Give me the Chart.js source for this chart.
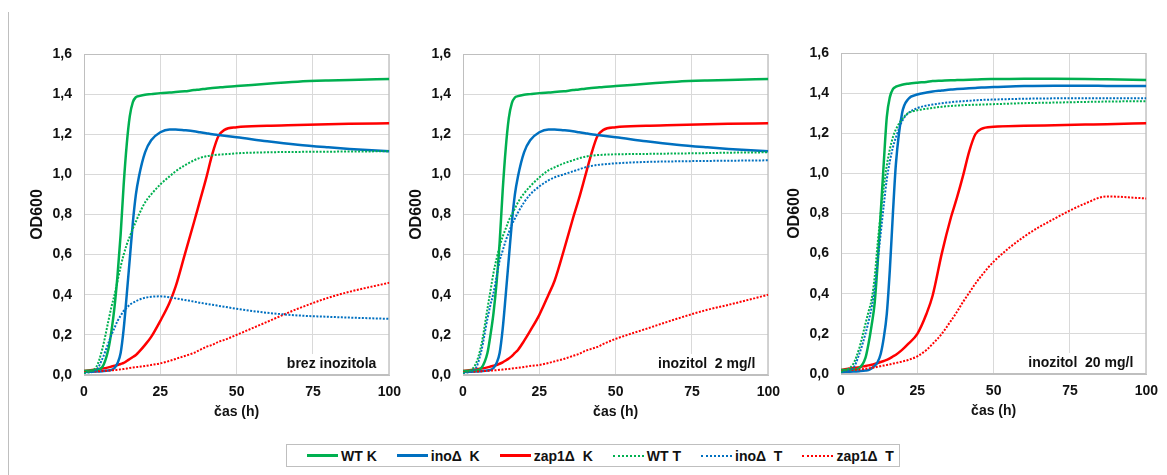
<!DOCTYPE html>
<html>
<head>
<meta charset="utf-8">
<script src="https://cdn.jsdelivr.net/npm/chart.js@4.4.1/dist/chart.umd.min.js"></script>
<style>
  body { margin: 0; background: #fff; width: 1167px; height: 475px; position: relative; overflow: hidden;
         font-family: "Liberation Sans", Arial, sans-serif; }
  .panel { position: absolute; top: 30px; }
  #frameLine { position: absolute; left: 8px; top: 12px; width: 1px; height: 463px; background: #bfbfbf; }
  #legend { position: absolute; left: 286px; top: 444px; width: 614px; height: 23px; border: 1px solid #bfbfbf;
            display: flex; align-items: center; padding-left: 20px; box-sizing: border-box; }
  .item { display: flex; align-items: center; margin-right: 20px; font-weight: bold; font-size: 14px; color: #111; white-space: pre; }
  .swatch { width: 31px; height: 0; margin-right: 3px; }
</style>
</head>
<body>
<div id="frameLine"></div>
<canvas id="c1" class="panel" style="left:14px"></canvas>
<canvas id="c2" class="panel" style="left:393px"></canvas>
<canvas id="c3" class="panel" style="left:771px;top:29px"></canvas>
<div id="legend"></div>
<script>
// time points (h), shared by all series
const hours = [0, 4, 6, 8, 9, 10, 11, 12, 13, 14, 15, 16, 17, 18, 20, 22, 25, 28, 30, 33, 36, 38, 40, 42, 44, 46, 50, 60, 70, 80, 87, 100];

const seriesNames = ['WT K', 'inoΔ  K', 'zap1Δ  K', 'WT T', 'inoΔ  T', 'zap1Δ  T'];
const seriesColors = ['#00b050', '#0070c0', '#ff0000', '#00b050', '#0070c0', '#ff0000'];
const panelTitles = ['brez inozitola', 'inozitol  2 mg/l', 'inozitol  20 mg/l'];

// brez inozitola
const p1WtK  = [0.02, 0.025, 0.04, 0.13, 0.22, 0.34, 0.5, 0.7, 0.95, 1.15, 1.29, 1.36, 1.385, 1.39, 1.397, 1.40, 1.405, 1.408, 1.41, 1.414, 1.42, 1.423, 1.427, 1.43, 1.433, 1.436, 1.44, 1.452, 1.462, 1.468, 1.471, 1.475];
const p1InoK = [0.015, 0.017, 0.019, 0.022, 0.026, 0.035, 0.06, 0.11, 0.23, 0.40, 0.58, 0.76, 0.9, 0.99, 1.11, 1.17, 1.21, 1.224, 1.224, 1.22, 1.215, 1.21, 1.205, 1.2, 1.196, 1.192, 1.185, 1.165, 1.148, 1.135, 1.127, 1.115];
const p1ZapK = [0.02, 0.028, 0.032, 0.038, 0.042, 0.046, 0.05, 0.055, 0.06, 0.07, 0.08, 0.09, 0.1, 0.115, 0.15, 0.19, 0.27, 0.36, 0.44, 0.6, 0.76, 0.87, 0.98, 1.1, 1.19, 1.222, 1.235, 1.242, 1.246, 1.25, 1.252, 1.255];
const p1WtT  = [0.01, 0.04, 0.13, 0.27, 0.34, 0.40, 0.47, 0.54, 0.6, 0.65, 0.69, 0.73, 0.765, 0.80, 0.86, 0.90, 0.95, 0.99, 1.015, 1.045, 1.07, 1.082, 1.09, 1.095, 1.098, 1.1, 1.105, 1.11, 1.112, 1.113, 1.114, 1.115];
const p1InoT = [0.01, 0.025, 0.08, 0.16, 0.2, 0.235, 0.27, 0.295, 0.32, 0.335, 0.35, 0.36, 0.368, 0.375, 0.385, 0.39, 0.392, 0.387, 0.382, 0.374, 0.366, 0.36, 0.355, 0.35, 0.345, 0.34, 0.33, 0.31, 0.297, 0.29, 0.286, 0.28];
const p1ZapT = [0.015, 0.018, 0.02, 0.022, 0.023, 0.025, 0.026, 0.028, 0.03, 0.032, 0.035, 0.037, 0.039, 0.041, 0.045, 0.05, 0.058, 0.07, 0.08, 0.095, 0.11, 0.125, 0.14, 0.15, 0.165, 0.175, 0.2, 0.265, 0.33, 0.385, 0.415, 0.46];

// inozitol 2 mg/l
const p2WtK  = [0.02, 0.022, 0.035, 0.11, 0.2, 0.31, 0.46, 0.66, 0.92, 1.13, 1.28, 1.355, 1.383, 1.39, 1.397, 1.40, 1.405, 1.408, 1.41, 1.414, 1.42, 1.423, 1.427, 1.43, 1.433, 1.436, 1.44, 1.452, 1.462, 1.468, 1.471, 1.475];
const p2InoK = [0.015, 0.017, 0.019, 0.022, 0.026, 0.035, 0.06, 0.11, 0.23, 0.40, 0.58, 0.76, 0.9, 0.99, 1.11, 1.17, 1.21, 1.224, 1.224, 1.22, 1.215, 1.21, 1.205, 1.2, 1.196, 1.192, 1.185, 1.165, 1.148, 1.135, 1.127, 1.115];
const p2ZapK = [0.02, 0.028, 0.032, 0.038, 0.042, 0.046, 0.05, 0.056, 0.063, 0.072, 0.082, 0.094, 0.11, 0.125, 0.17, 0.22, 0.3, 0.4, 0.47, 0.62, 0.78, 0.88, 0.99, 1.1, 1.19, 1.222, 1.235, 1.242, 1.246, 1.25, 1.252, 1.255];
const p2WtT  = [0.01, 0.05, 0.15, 0.33, 0.42, 0.51, 0.58, 0.64, 0.69, 0.73, 0.77, 0.80, 0.83, 0.86, 0.905, 0.94, 0.985, 1.02, 1.035, 1.055, 1.07, 1.08, 1.088, 1.093, 1.096, 1.098, 1.10, 1.102, 1.104, 1.106, 1.108, 1.11];
const p2InoT = [0.01, 0.03, 0.12, 0.28, 0.35, 0.41, 0.49, 0.57, 0.62, 0.67, 0.71, 0.75, 0.78, 0.81, 0.86, 0.90, 0.94, 0.97, 0.985, 1.0, 1.015, 1.025, 1.035, 1.042, 1.047, 1.05, 1.055, 1.062, 1.065, 1.067, 1.068, 1.07];
const p2ZapT = [0.015, 0.017, 0.019, 0.021, 0.022, 0.023, 0.024, 0.026, 0.027, 0.029, 0.03, 0.032, 0.034, 0.036, 0.04, 0.045, 0.05, 0.06, 0.068, 0.08, 0.095, 0.105, 0.12, 0.13, 0.14, 0.155, 0.18, 0.23, 0.28, 0.325, 0.35, 0.40];

// inozitol 20 mg/l
const p3WtK  = [0.02, 0.022, 0.03, 0.08, 0.15, 0.24, 0.35, 0.55, 0.8, 1.05, 1.28, 1.38, 1.42, 1.432, 1.442, 1.447, 1.452, 1.456, 1.46, 1.462, 1.464, 1.465, 1.466, 1.467, 1.468, 1.469, 1.47, 1.472, 1.472, 1.471, 1.469, 1.465];
const p3InoK = [0.01, 0.012, 0.014, 0.017, 0.02, 0.028, 0.04, 0.06, 0.1, 0.18, 0.3, 0.52, 0.8, 1.05, 1.3, 1.37, 1.393, 1.403, 1.408, 1.413, 1.418, 1.42, 1.422, 1.424, 1.426, 1.428, 1.43, 1.435, 1.437, 1.437, 1.436, 1.435];
const p3ZapK = [0.02, 0.03, 0.034, 0.04, 0.043, 0.046, 0.05, 0.055, 0.06, 0.065, 0.07, 0.078, 0.087, 0.096, 0.12, 0.15, 0.2, 0.3, 0.39, 0.6, 0.78, 0.88, 0.99, 1.11, 1.195, 1.222, 1.232, 1.237, 1.24, 1.243, 1.245, 1.25];
const p3WtT  = [0.01, 0.05, 0.13, 0.25, 0.31, 0.37, 0.48, 0.65, 0.8, 0.93, 1.04, 1.12, 1.18, 1.22, 1.27, 1.3, 1.315, 1.322, 1.326, 1.332, 1.336, 1.338, 1.34, 1.341, 1.342, 1.343, 1.345, 1.35, 1.353, 1.356, 1.358, 1.36];
const p3InoT = [0.01, 0.03, 0.1, 0.2, 0.26, 0.33, 0.42, 0.56, 0.7, 0.84, 0.97, 1.06, 1.13, 1.18, 1.26, 1.3, 1.325, 1.338, 1.343, 1.35, 1.355, 1.358, 1.36, 1.362, 1.364, 1.366, 1.368, 1.372, 1.374, 1.375, 1.375, 1.375];
const p3ZapT = [0.015, 0.02, 0.022, 0.026, 0.028, 0.03, 0.033, 0.036, 0.039, 0.042, 0.045, 0.048, 0.052, 0.055, 0.062, 0.07, 0.088, 0.12, 0.15, 0.2, 0.265, 0.31, 0.36, 0.405, 0.45, 0.49, 0.56, 0.685, 0.775, 0.85, 0.885, 0.875];

const panels = [
  [p1WtK, p1InoK, p1ZapK, p1WtT, p1InoT, p1ZapT],
  [p2WtK, p2InoK, p2ZapK, p2WtT, p2InoT, p2ZapT],
  [p3WtK, p3InoK, p3ZapK, p3WtT, p3InoT, p3ZapT]
];

const FONT = '"Liberation Sans", Arial, sans-serif';
const TEXT = '#111';

// plot frame + label box in lower right corner
const panelDecor = {
  id: 'panelDecor',
  beforeDatasetsDraw(chart, args, opts) {
    const { ctx, chartArea: a } = chart;
    ctx.save();
    ctx.font = 'bold 14px ' + FONT;
    const w = ctx.measureText(opts.text).width;
    ctx.fillStyle = '#fff';
    ctx.fillRect(a.right - w - 20, a.bottom - 21, w + 19, 20);
    ctx.strokeStyle = '#bfbfbf';
    ctx.lineWidth = 1;
    ctx.strokeRect(a.left + 0.5, a.top + 0.5, a.right - a.left - 1, a.bottom - a.top - 1);
    ctx.restore();
  },
  afterDatasetsDraw(chart, args, opts) {
    const { ctx, chartArea: a } = chart;
    ctx.save();
    ctx.font = 'bold 14px ' + FONT;
    ctx.fillStyle = TEXT;
    ctx.textAlign = 'right';
    ctx.textBaseline = 'middle';
    ctx.fillText(opts.text, a.right - 13, a.bottom - 11);
    ctx.restore();
  }
};

function makePanel(id, values, title) {
  const canvas = document.getElementById(id);
  canvas.width = 396;
  canvas.height = 395;
  const datasets = values.map((vals, i) => {
    const dotted = i >= 3;
    return {
      label: seriesNames[i],
      data: hours.map((h, j) => ({ x: h, y: vals[j] })),
      borderColor: seriesColors[i],
      borderWidth: dotted ? 2 : 2.5,
      borderDash: dotted ? [2, 1.5] : [],
      pointRadius: 0,
      fill: false,
      cubicInterpolationMode: 'monotone',
      order: dotted ? 0 : 1
    };
  });
  return new Chart(canvas, {
    type: 'line',
    data: { datasets },
    options: {
      responsive: false,
      animation: false,
      layout: { padding: { top: 24, right: 16, left: 0, bottom: 0 } },
      plugins: {
        legend: { display: false },
        tooltip: { enabled: false },
        panelDecor: { text: title }
      },
      scales: {
        x: {
          type: 'linear',
          min: 0, max: 100,
          afterFit: s => { s.height = 50; },
          ticks: { stepSize: 25, padding: 9, color: TEXT, font: { family: FONT, size: 14, weight: 'bold' } },
          grid: { color: '#d9d9d9', drawTicks: false },
          border: { color: '#bfbfbf' },
          title: { display: true, text: 'čas (h)', color: TEXT, padding: { top: 0, bottom: 4 },
                   font: { family: FONT, size: 14, weight: 'bold' } }
        },
        y: {
          min: 0, max: 1.6,
          afterFit: s => { s.width = 70; },
          ticks: { stepSize: 0.2, padding: 12, color: TEXT, font: { family: FONT, size: 14, weight: 'bold' },
                   callback: v => v.toFixed(1).replace('.', ',') },
          grid: { color: '#d9d9d9', drawTicks: false },
          border: { color: '#bfbfbf' },
          title: { display: true, text: 'OD600', color: TEXT, padding: { top: 14, bottom: 0 },
                   font: { family: FONT, size: 16, weight: 'bold' } }
        }
      }
    },
    plugins: [panelDecor]
  });
}

makePanel('c1', panels[0], panelTitles[0]);
makePanel('c2', panels[1], panelTitles[1]);
makePanel('c3', panels[2], panelTitles[2]);

// shared legend
const legend = document.getElementById('legend');
seriesNames.forEach((name, i) => {
  const item = document.createElement('div');
  item.className = 'item';
  const sw = document.createElement('span');
  sw.className = 'swatch';
  sw.style.borderTop = (i >= 3 ? '2px dotted ' : '3px solid ') + seriesColors[i];
  item.appendChild(sw);
  item.appendChild(document.createTextNode(name));
  legend.appendChild(item);
});
</script>
</body>
</html>
